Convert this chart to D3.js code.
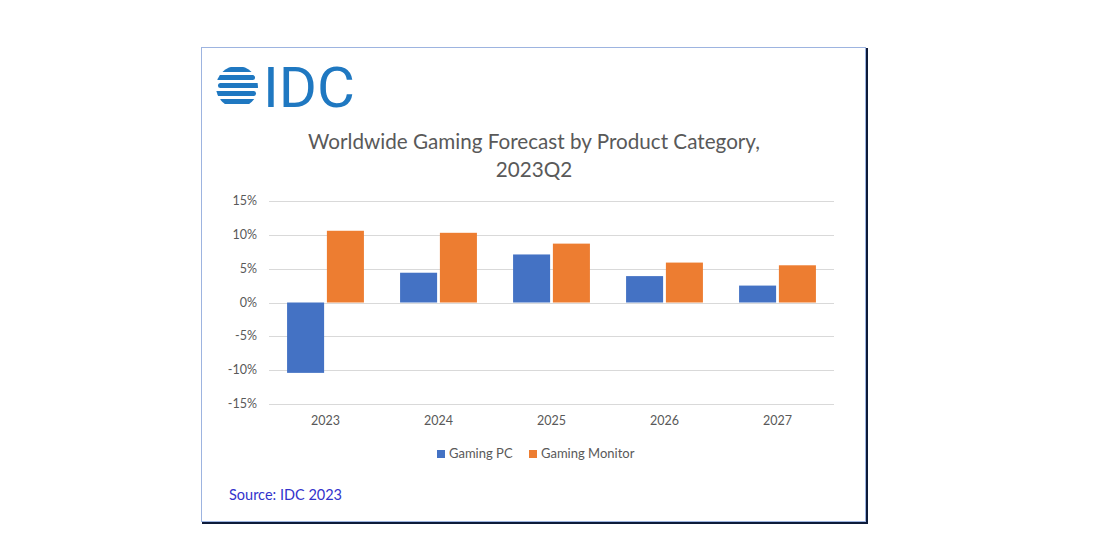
<!DOCTYPE html>
<html><head><meta charset="utf-8">
<script src="https://cdn.jsdelivr.net/npm/d3@7"></script>
<style>body{margin:0;background:#fff;}svg{display:block;}</style>
</head><body>
<svg id="c" width="1093" height="549"></svg>
<script>
const categories = ["2023","2024","2025","2026","2027"];
const seriesNames = ["Gaming PC","Gaming Monitor"];
const gamingPC = [-10.4, 4.4, 7.1, 3.9, 2.5];
const gamingMonitor = [10.6, 10.3, 8.7, 5.9, 5.5];
const yTicks = [-15,-10,-5,0,5,10,15];
const colors = ["#4472c4","#ed7d31"];
const titleLines = ["Worldwide Gaming Forecast by Product Category,","2023Q2"];
const sourceText = "Source: IDC 2023";

const svg = d3.select("#c");
const font = "Lato, 'Open Sans', sans-serif";

// outer box
svg.append("rect").attr("x",201.5).attr("y",47.5).attr("width",664).attr("height",474)
  .attr("fill","#fff").attr("stroke","#9db4e0").attr("stroke-width",1);
svg.append("line").attr("x1",867).attr("x2",867).attr("y1",48).attr("y2",524).attr("stroke","#0d1b3a").attr("stroke-width",2);
svg.append("line").attr("x1",202).attr("x2",868).attr("y1",523).attr("y2",523).attr("stroke","#0d1b3a").attr("stroke-width",2);

// IDC logo
const logo = svg.append("g");
const cx=237, cy=87, r=21;
logo.append("clipPath").attr("id","gclip").append("circle").attr("cx",cx).attr("cy",cy).attr("r",r);
const stripes = logo.append("g").attr("clip-path","url(#gclip)");
const stripeDefs = [[-20,0],[-12,-3],[-4,2],[4,-2],[12,3]];
stripeDefs.forEach(([dy,dx])=>{
  stripes.append("rect").attr("x",cx-r+dx).attr("y",cy+dy).attr("width",2*r).attr("height",5).attr("fill","#1f78c1").attr("rx",2.5);
});
logo.append("text").attr("x",263).attr("y",107).attr("font-family","Roboto, sans-serif").attr("font-weight",400)
  .attr("font-size",56).attr("fill","#1f78c1").attr("textLength",92).attr("lengthAdjust","spacingAndGlyphs").text("IDC");

// title
const tt = svg.append("g");
titleLines.forEach((t,i)=>{
  tt.append("text").attr("x",534).attr("y",149+i*28).attr("text-anchor","middle")
    .attr("font-family",font).attr("font-size",20).attr("fill","#595959").text(t);
});
const t0 = tt.select("text").node();
const w0 = t0.getComputedTextLength();
const fs = 20*452/w0;
tt.selectAll("text").attr("font-size",fs);

// scales
const plot = {x0:269, x1:834};
const x = d3.scaleBand().domain(categories).range([plot.x0,plot.x1]).paddingInner(0.32).paddingOuter(0.16);
const xs = d3.scaleBand().domain(seriesNames).range([0,x.bandwidth()]).paddingInner(0.07);
const y = d3.scaleLinear().domain([-15,15]).range([404,201]);

// gridlines
svg.append("g").selectAll("line").data(yTicks).join("line")
  .attr("x1",plot.x0).attr("x2",plot.x1).attr("y1",d=>Math.round(y(d))+0.5).attr("y2",d=>Math.round(y(d))+0.5)
  .attr("stroke","#d9d9d9").attr("stroke-width",1);

// y labels
svg.append("g").selectAll("text").data(yTicks).join("text")
  .attr("x",257).attr("y",d=>y(d)+4).attr("text-anchor","end")
  .attr("font-family",font).attr("font-size",12.5).attr("fill","#595959").text(d=>d+"%");

// bars
const data = categories.map((c,i)=>({c, vals:[gamingPC[i],gamingMonitor[i]]}));
const groups = svg.append("g").selectAll("g").data(data).join("g").attr("transform",d=>`translate(${x(d.c)},0)`);
groups.selectAll("rect").data(d=>d.vals.map((v,j)=>({v,s:seriesNames[j],j}))).join("rect")
  .attr("x",d=>xs(d.s)).attr("width",xs.bandwidth())
  .attr("y",d=>Math.min(y(d.v),y(0))).attr("height",d=>Math.abs(y(d.v)-y(0)))
  .attr("fill",d=>colors[d.j]);

// x labels
svg.append("g").selectAll("text").data(categories).join("text")
  .attr("x",d=>x(d)+x.bandwidth()/2).attr("y",425).attr("text-anchor","middle")
  .attr("font-family",font).attr("font-size",12.5).attr("fill","#595959").text(d=>d);

// legend
const leg = svg.append("g");
const legX = [437, 529];
seriesNames.forEach((s,i)=>{
  leg.append("rect").attr("x",legX[i]).attr("y",450).attr("width",8).attr("height",8).attr("fill",colors[i]);
  leg.append("text").attr("x",legX[i]+12).attr("y",458).attr("font-family",font).attr("font-size",13)
    .attr("fill","#595959").text(s);
});

// source
svg.append("text").attr("x",229).attr("y",500).attr("font-family",font).attr("font-size",14.5)
  .attr("fill","#3333cc").text(sourceText);
</script>
</body></html>
